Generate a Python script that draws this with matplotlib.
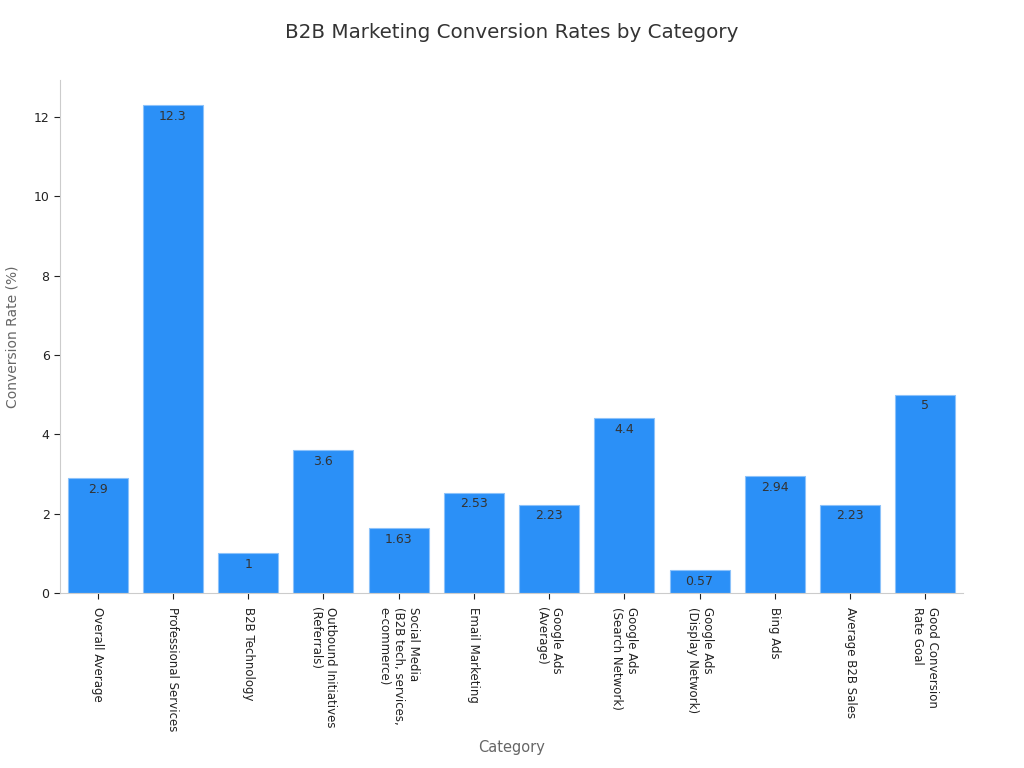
import matplotlib.pyplot as plt

categories = [
    'Overall Average',
    'Professional Services',
    'B2B Technology',
    'Outbound Initiatives\n(Referrals)',
    'Social Media\n(B2B tech, services,\ne-commerce)',
    'Email Marketing',
    'Google Ads\n(Average)',
    'Google Ads\n(Search Network)',
    'Google Ads\n(Display Network)',
    'Bing Ads',
    'Average B2B Sales',
    'Good Conversion\nRate Goal',
]
rates = [2.9, 12.3, 1, 3.6, 1.63, 2.53, 2.23, 4.4, 0.57, 2.94, 2.23, 5]
value_labels = ['2.9', '12.3', '1', '3.6', '1.63', '2.53', '2.23', '4.4', '0.57', '2.94', '2.23', '5']

fig = plt.figure(figsize=(10.24, 7.68), dpi=100)
ax = fig.add_axes([0.0586, 0.2279, 0.8818, 0.6679])

x = list(range(len(categories)))
bars = ax.bar(x, rates, width=0.8, color='#2b90f7', edgecolor='#8cc2fa', linewidth=0.8)

for xi, v, lab in zip(x, rates, value_labels):
    ax.annotate(lab, (xi, v), xytext=(0, -3.5), textcoords='offset points',
                ha='center', va='top', fontsize=9, color='#333333')

ax.set_xlim(-0.5, 11.5)
ax.set_ylim(0, 12.93)
ax.set_xticks(x)
ax.set_xticklabels(categories, rotation=-90, ha='center', va='top',
                   multialignment='left', fontsize=8.5, color='#222222')
ax.set_yticks([0, 2, 4, 6, 8, 10, 12])
ax.tick_params(axis='y', labelsize=9, colors='#222222', length=4)
ax.tick_params(axis='x', length=4, colors='#222222', pad=6)

for side in ['top', 'right']:
    ax.spines[side].set_visible(False)
for side in ['left', 'bottom']:
    ax.spines[side].set_color('#cccccc')

ax.set_xlabel('Category', fontsize=10.5, color='#666666', labelpad=6)
ax.set_ylabel('Conversion Rate (%)', fontsize=10, color='#666666', labelpad=10)
fig.suptitle('B2B Marketing Conversion Rates by Category', fontsize=14.3, color='#333333', y=0.97)

fig.savefig('out.png', dpi=100)
